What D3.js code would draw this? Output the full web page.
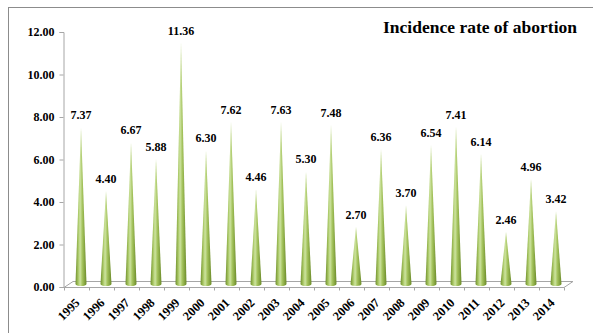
<!DOCTYPE html>
<html>
<head>
<meta charset="utf-8">
<script src="https://cdn.jsdelivr.net/npm/d3@7"></script>
<style>
  html, body { margin: 0; padding: 0; background: #fff; }
  svg { display: block; }
  text { font-family: "Liberation Serif", "Times New Roman", serif; font-weight: bold; fill: #000; }
</style>
</head>
<body>
<svg id="chart" width="593" height="333"></svg>
<script>
// Incidence rate of abortion, 1995–2014
const years = ["1995","1996","1997","1998","1999","2000","2001","2002","2003","2004",
               "2005","2006","2007","2008","2009","2010","2011","2012","2013","2014"];
const rates = [7.37, 4.40, 6.67, 5.88, 11.36, 6.30, 7.62, 4.46, 7.63, 5.30,
               7.48, 2.70, 6.36, 3.70, 6.54, 7.41, 6.14, 2.46, 4.96, 3.42];
const yTicks = [0, 2, 4, 6, 8, 10, 12];
const title = "Incidence rate of abortion";

const svg = d3.select("#chart");

// outer frame
svg.append("rect")
  .attr("x", 8.5).attr("y", 7.5).attr("width", 620).attr("height", 400)
  .attr("fill", "none").attr("stroke", "#8c8c8c").attr("stroke-width", 1);

const x = d3.scaleBand().domain(years).range([64, 564]).paddingInner(0).paddingOuter(0);
const y = d3.scaleLinear().domain([0, 12]).range([287, 32]);
const depthX = 9, depthY = 6;   // floor depth offset
const lineCol = "#a6a6a6";

// cone gradient
const defs = svg.append("defs");
const grad = defs.append("linearGradient").attr("id", "coneGrad")
  .attr("x1", "0%").attr("x2", "100%").attr("y1", "0%").attr("y2", "0%");
[["0%", "#6f8f2c"], ["25%", "#a9c865"], ["42%", "#cde3a0"], ["62%", "#a5c45e"], ["100%", "#6a8a28"]]
  .forEach(([o, c]) => grad.append("stop").attr("offset", o).attr("stop-color", c));

// floor
const floor = svg.append("g").attr("fill", "none").attr("stroke", lineCol).attr("stroke-width", 1);
const x0 = x.range()[0], x1 = x.range()[1], y0 = y(0) + 0.5;
floor.append("path").attr("d",
  `M${x0},${y0} L${x0 + depthX},${y0 - depthY} L${x1 + depthX},${y0 - depthY} L${x1},${y0}`);

// y axis
const yAxis = d3.axisLeft(y).tickValues(yTicks).tickFormat(d3.format(".2f")).tickSize(4).tickPadding(5);
const gy = svg.append("g").attr("transform", "translate(63.5,0)").call(yAxis);
gy.select(".domain").attr("stroke", lineCol);
gy.selectAll(".tick line").attr("stroke", lineCol);
gy.selectAll(".tick text").style("font-size", "12px").style("font-family", "Liberation Serif").style("font-weight", "bold");

// x axis: boundary ticks
const bounds = d3.scaleLinear().domain([0, years.length]).range([x0, x1]);
const gxTicks = svg.append("g").attr("transform", `translate(0,${y0})`)
  .call(d3.axisBottom(bounds).tickValues(d3.range(years.length + 1)).tickSize(3).tickFormat(""));
gxTicks.select(".domain").attr("stroke", lineCol).attr("d", `M${x0},0H${x1}`);
gxTicks.selectAll(".tick line").attr("stroke", lineCol);

// x axis labels
const gx = svg.append("g").attr("transform", `translate(0,${y0})`)
  .call(d3.axisBottom(x).tickSize(0).tickPadding(0));
gx.select(".domain").remove();
gx.selectAll(".tick text")
  .style("font-size", "12.5px").style("font-family", "Liberation Serif").style("font-weight", "bold")
  .attr("text-anchor", "end")
  .attr("dy", null).attr("y", 0)
  .attr("transform", "translate(4,16) rotate(-45)");

// cones
const baseY = y(0) - depthY / 2;
const half = 5.5, ry = 2;
const cones = svg.append("g");
years.forEach((yr, i) => {
  const cx = x(yr) + x.bandwidth() / 2 + depthX / 2;
  const apex = y(rates[i]) - depthY / 2;
  cones.append("path")
    .attr("d", `M${cx},${apex} L${cx + half},${baseY} A${half},${ry} 0 0 1 ${cx - half},${baseY} Z`)
    .attr("fill", "url(#coneGrad)");
  cones.append("text")
    .attr("x", cx).attr("y", apex - 8)
    .attr("text-anchor", "middle")
    .style("font-size", "12px")
    .text(d3.format(".2f")(rates[i]));
});

// title
svg.append("text")
  .attr("x", 577).attr("y", 33)
  .attr("text-anchor", "end")
  .style("font-size", "17.5px")
  .text(title);
</script>
</body>
</html>
